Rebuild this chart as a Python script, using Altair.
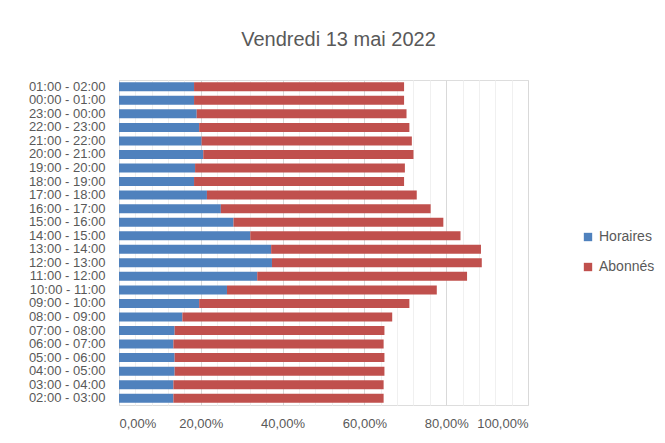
import altair as alt
import pandas as pd

categories = ["01:00 - 02:00", "00:00 - 01:00", "23:00 - 00:00", "22:00 - 23:00",
              "21:00 - 22:00", "20:00 - 21:00", "19:00 - 20:00", "18:00 - 19:00",
              "17:00 - 18:00", "16:00 - 17:00", "15:00 - 16:00", "14:00 - 15:00",
              "13:00 - 14:00", "12:00 - 13:00", "11:00 - 12:00", "10:00 - 11:00",
              "09:00 - 10:00", "08:00 - 09:00", "07:00 - 08:00", "06:00 - 07:00",
              "05:00 - 06:00", "04:00 - 05:00", "03:00 - 04:00", "02:00 - 03:00"]
horaires = [18.35, 18.35, 19.0, 19.6, 20.2, 20.6, 18.6, 18.35, 21.5, 24.9, 28.0, 32.1,
            37.2, 37.4, 33.8, 26.4, 19.6, 15.5, 13.6, 13.3, 13.6, 13.6, 13.3, 13.3]
totals = [69.7, 69.7, 70.3, 71.0, 71.6, 72.0, 69.9, 69.7, 72.8, 76.2, 79.3, 83.5,
          88.5, 88.7, 85.1, 77.7, 71.0, 66.8, 64.9, 64.7, 64.9, 64.9, 64.7, 64.7]
abonnes = [round(t - h, 2) for t, h in zip(totals, horaires)]
series = ["Horaires", "Abonnés"]
colors = ["#4F81BD", "#C0504D"]
x_ticks = [i / 100 for i in range(0, 101, 4)]

rows = []
for c, h, a in zip(categories, horaires, abonnes):
    rows.append({"cat": c, "serie": "Horaires", "val": h / 100, "ord": 0})
    rows.append({"cat": c, "serie": "Abonnés", "val": a / 100, "ord": 1})
df = pd.DataFrame(rows)

FONT = "Liberation Sans"
GRAY = "#595959"

chart = alt.Chart(df).mark_bar(size=9).encode(
    y=alt.Y("cat:N", sort=categories, title=None,
            axis=alt.Axis(labelFontSize=13, labelColor=GRAY, labelFont=FONT,
                          ticks=False, labelPadding=14, domainColor="#D9D9D9",
                          grid=False)),
    x=alt.X("val:Q", stack="zero", title=None,
            scale=alt.Scale(domain=[0, 1], nice=False),
            axis=alt.Axis(values=x_ticks, ticks=False, domain=False,
                          labelFontSize=13, labelColor=GRAY, labelFont=FONT,
                          labelPadding=12,
                          labelExpr="round(datum.value*100) % 20 == 0 ? replace(format(datum.value, '.2%'), '.', ',') : ''",
                          gridColor={"condition": {"test": "round(datum.value*100) % 20 == 0",
                                                   "value": "#D9D9D9"},
                                     "value": "#F0F0F0"},
                          gridWidth=1)),
    color=alt.Color("serie:N", sort=series,
                    scale=alt.Scale(domain=series, range=colors),
                    legend=alt.Legend(title=None, orient="none", legendX=462, legendY=150,
                                      symbolType="square", symbolSize=70,
                                      labelFontSize=14, labelColor=GRAY, labelFont=FONT,
                                      rowPadding=16, symbolStrokeWidth=0)),
    order=alt.Order("ord:Q"),
).properties(
    width=409, height=325,
    title=alt.TitleParams("Vendredi 13 mai 2022", fontSize=20, font=FONT,
                          color=GRAY, fontWeight="normal", dx=15, offset=30),
    autosize=alt.AutoSizeParams(type="none"),
    padding={"left": 111, "top": 72, "right": 129, "bottom": 30},
).configure_view(stroke=None).configure(background="white")

chart.save("out.html", embed_options={"renderer": "svg", "actions": False})
